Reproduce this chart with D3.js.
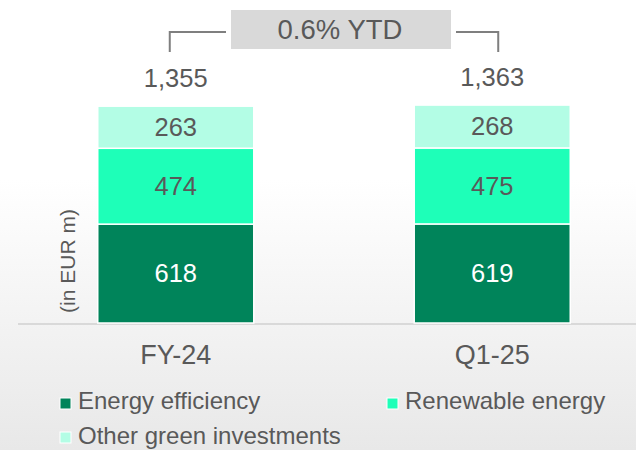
<!DOCTYPE html>
<html>
<head>
<meta charset="utf-8">
<script src="https://d3js.org/d3.v7.min.js"></script>
<style>
  body { margin: 0; }
  svg text { font-family: "Liberation Sans", Arial, sans-serif; fill: #595959; }
</style>
</head>
<body>
<svg id="chart" width="636" height="450"></svg>
<script>
// data
var categories = ["FY-24", "Q1-25"];
var seriesNames = ["Energy efficiency", "Renewable energy", "Other green investments"];
var energyEfficiency = [618, 619];
var renewableEnergy = [474, 475];
var otherGreen = [263, 268];
var totals = [1355, 1363];
var changeLabel = "0.6% YTD";
var unitLabel = "(in EUR m)";

var colors = ["#00845a", "#1effb8", "#b3fde5"];
var textColors = ["#ffffff", "#595959", "#595959"];

var svg = d3.select("#chart");

// background gradient
var defs = svg.append("defs");
var grad = defs.append("linearGradient").attr("id", "bg")
  .attr("x1", 0).attr("y1", 0).attr("x2", 0).attr("y2", 1);
grad.append("stop").attr("offset", "0%").attr("stop-color", "#ffffff");
grad.append("stop").attr("offset", "40%").attr("stop-color", "#ffffff");
grad.append("stop").attr("offset", "100%").attr("stop-color", "#e8e8e8");
svg.append("rect").attr("width", 636).attr("height", 450).attr("fill", "url(#bg)");

var x = d3.scaleBand().domain(categories).range([18, 650])
  .paddingInner(0.507).paddingOuter(0.252);
var y = d3.scaleLinear().domain([0, 1500]).range([323, 83]);

// stack the series
var rows = categories.map(function(c, i) {
  return { cat: c, s0: energyEfficiency[i], s1: renewableEnergy[i], s2: otherGreen[i] };
});
var stack = d3.stack().keys(["s0", "s1", "s2"])(rows);

// baseline
svg.append("line")
  .attr("x1", 18).attr("x2", 636)
  .attr("y1", y(0) + 1).attr("y2", y(0) + 1)
  .attr("stroke", "#d9d9d9").attr("stroke-width", 2);

stack.forEach(function(layer, li) {
  var g = svg.append("g");
  g.selectAll("rect").data(layer).enter().append("rect")
    .attr("x", function(d) { return x(d.data.cat); })
    .attr("width", x.bandwidth())
    .attr("y", function(d) { return y(d[1]); })
    .attr("height", function(d) { return y(d[0]) - y(d[1]); })
    .attr("fill", colors[li])
    .attr("stroke", "#ffffff")
    .attr("stroke-width", 1.5);
  g.selectAll("text").data(layer).enter().append("text")
    .attr("x", function(d) { return x(d.data.cat) + x.bandwidth() / 2; })
    .attr("y", function(d) { return (y(d[0]) + y(d[1])) / 2; })
    .attr("dy", "0.35em")
    .attr("text-anchor", "middle")
    .style("font-size", "25.5px")
    .style("fill", textColors[li])
    .text(function(d) { return d[1] - d[0]; });
});

// totals
svg.selectAll("text.total").data(categories).enter().append("text")
  .attr("class", "total")
  .attr("x", function(c) { return x(c) + x.bandwidth() / 2; })
  .attr("y", function(c, i) { return y(totals[i]) - 19; })
  .attr("text-anchor", "middle")
  .style("font-size", "25.5px")
  .text(function(c, i) { return d3.format(",")(totals[i]); });

// category labels
svg.selectAll("text.cat").data(categories).enter().append("text")
  .attr("class", "cat")
  .attr("x", function(c) { return x(c) + x.bandwidth() / 2; })
  .attr("y", y(0) + 41)
  .attr("text-anchor", "middle")
  .style("font-size", "27px")
  .text(function(c) { return c; });

// unit label
svg.append("text")
  .attr("transform", "translate(75," + 261 + ") rotate(-90)")
  .attr("text-anchor", "middle")
  .style("font-size", "21px")
  .text(unitLabel);

// YTD bracket
var xl = x(categories[0]) + x.bandwidth() / 2 - 6;
var xr = x(categories[1]) + x.bandwidth() / 2 + 6;
svg.append("path")
  .attr("d", "M" + xl + ",52V32H226")
  .attr("fill", "none").attr("stroke", "#7f7f7f").attr("stroke-width", 2);
svg.append("path")
  .attr("d", "M456,32H" + xr + "V52")
  .attr("fill", "none").attr("stroke", "#7f7f7f").attr("stroke-width", 2);
svg.append("rect")
  .attr("x", 231).attr("y", 10).attr("width", 220).attr("height", 39)
  .attr("fill", "#d9d9d9");
svg.append("text")
  .attr("x", 340).attr("y", 39)
  .attr("text-anchor", "middle")
  .style("font-size", "27.5px")
  .text(changeLabel);

// legend
var legendPos = [[60, 398, 409], [387, 398, 409], [60, 432, 444]];
seriesNames.forEach(function(name, i) {
  svg.append("rect")
    .attr("x", legendPos[i][0]).attr("y", legendPos[i][1])
    .attr("width", 11).attr("height", 11)
    .attr("fill", colors[i]).attr("stroke", "#ffffff").attr("stroke-width", 1);
  svg.append("text")
    .attr("x", legendPos[i][0] + 18).attr("y", legendPos[i][2])
    .style("font-size", "24px")
    .text(name);
});
</script>
</body>
</html>
